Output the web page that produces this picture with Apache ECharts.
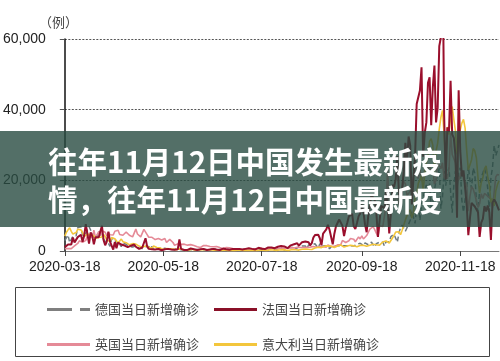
<!DOCTYPE html>
<html><head><meta charset="utf-8">
<script src="https://cdn.jsdelivr.net/npm/echarts@6/dist/echarts.min.js"></script>
<style>html,body{margin:0;padding:0;background:#fff}#c{width:500px;height:361px}</style>
</head><body><div id="c"></div>
<script>
const startDate = '2020-03-18';
const dayCount = 270;
const tickLabels = ['2020-03-18', '2020-05-18', '2020-07-18', '2020-09-18', '2020-11-18'];
const yTicks = [0, 20000, 40000, 60000];
const seriesNames = ['德国当日新增确诊', '法国当日新增确诊', '英国当日新增确诊', '意大利当日新增确诊'];

const germany = [
  2960, 2993, 4528, 2365, 2660, 4183, 3930, 4337, 6615, 6933, 6824, 4400, 4790, 4923,
  6064, 6922, 6365, 4933, 4031, 3251, 4289, 5633, 4885, 3990, 3725, 2737, 2946, 2218, 1287, 3394, 2945, 3699, 1945, 1842, 1881, 1226, 2357, 2481, 1870, 1514, 1257, 988, 1154, 1304,
  1478, 945, 793, 679, 685, 947, 1284, 1209, 1251, 667, 1251, 357, 933, 798, 933, 620, 583, 342, 797, 745, 460, 638, 431, 289, 432, 353, 741, 350, 342, 257, 286,
  333, 213, 342, 394, 507, 301, 354, 408, 177, 326, 555, 396, 348, 247, 367, 580, 687, 601, 770, 537, 587, 503, 630, 505, 297, 556, 256, 510, 466, 498,
  446, 446, 378, 239, 397, 398, 440, 442, 395, 378, 248, 159, 430, 351, 583, 570, 500, 382, 159, 560, 555, 570, 815, 781, 305, 287, 633, 684, 902, 870, 955,
  240, 500, 879, 741, 966, 1045, 1147, 555, 436, 1226, 1226, 1445, 1449, 1415, 625, 1693, 1510, 1707, 1510, 2034, 1427, 711, 2087, 1278, 1576, 1507, 1571, 1479, 610, 1218, 1256,
  1396, 1256, 1453, 1378, 1499, 1191, 1499, 1160, 1499, 1892, 1484, 1630, 1407, 1345, 1901, 1916, 2194, 1821, 1536, 2297, 1769, 1769, 2143, 2507, 1771, 1192, 2089, 1982, 2503, 2673,
  2503, 1382, 2642, 2089, 2639, 4058, 4516, 4721, 4516, 2467, 5132, 6638, 7334, 7830, 5587, 5587, 7595, 8685, 11242, 11287, 7830, 12331, 14714, 8685, 13000, 14964, 17145, 18681, 16774, 19059, 12097,
  13363, 17214, 19990, 21506, 23399, 12000, 15332, 22609, 18487, 21866, 23648, 16947, 10824, 18487, 22609, 17561, 22268, 23542, 14330, 11000, 14611, 17270, 24000, 20000, 17767, 23500, 22000, 14000, 11169, 17270,
  20815, 22046, 23449, 21695, 17767, 11169, 20815, 23679, 29875, 27000, 28438, 30000
];
const france = [
  1097, 1404, 1861, 1617, 1847, 3838, 2446, 2931, 3922, 3809, 4611, 2599, 4376, 7578,
  4861, 2116, 5233, 4267, 1873, 3912, 3777, 3881, 4286, 7120, 3114, 1613, 2673, 5497, 2633, 2641, 405, 2569, 785, 2383, 2256, 1827, 1653, 1537, 1842, 1100, 1200, 1500, 1065, 1843,
  1200, 800, 600, 500, 1000, 800, 3600, 1300, 600, 300, 500, 800, 400, 350, 550, 300, 200, 400, 500, 450, 600, 500, 400, 300, 350, 300, 500, 3300, 600, 400, 300,
  400, 300, 700, 700, 600, 500, 400, 300, 500, 500, 700, 600, 400, 300, 300, 450, 550, 600, 500, 400, 300, 250, 500, 700, 600, 500, 400, 350, 500, 600,
  500, 600, 700, 600, 500, 400, 300, 600, 700, 800, 700, 600, 500, 450, 800, 900, 700, 650, 600, 550, 900, 1000, 1100, 1000, 900, 800, 700, 1200, 1300, 1400, 1350,
  1300, 1100, 800, 1000, 1600, 1700, 1900, 2300, 2200, 1500, 1400, 2500, 2600, 2700, 2800, 2500, 1600, 2200, 3800, 4500, 4700, 4600, 3600, 1600, 4900, 5400, 6100, 7400, 6000, 5500, 1900,
  4900, 7000, 7100, 8900, 8500, 7100, 4200, 6500, 8000, 9800, 9400, 10500, 7000, 6200, 7900, 9800, 10600, 13200, 11000, 7500, 5300, 10000, 13000, 16000, 15000, 14400, 11000, 4000, 8500, 12800,
  12800, 12100, 17000, 12600, 5000, 10500, 18700, 18100, 20300, 26900, 16100, 13000, 12900, 22600, 30600, 25100, 32400, 29800, 13200, 20500, 26700, 41600, 42000, 45400, 52000, 26700, 33400, 36400, 47600, 49200, 35600,
  46300, 52500, 36400, 40500, 58000, 60500, 86800, 38600, 20200, 35000, 33700, 48200, 33000, 32000, 27200, 9400, 45500, 28400, 21100, 22800, 17900, 13000, 4500, 9200, 13600, 13500, 12600, 12500, 11000, 4000,
  8000, 9100, 12700, 11200, 12900, 11000, 3100, 13700, 14600, 13800, 13400, 11500
];
const uk = [
  676, 643, 714, 1035, 665, 967, 1427, 1452, 2129, 2885, 2546, 2433, 2619, 3009,
  4324, 4244, 4450, 3735, 5903, 3802, 3634, 5491, 4344, 5706, 5233, 5288, 4342, 5252, 4603, 4617, 4516, 5599, 5525, 5850, 4676, 4301, 4451, 4583, 5386, 4913, 4463, 4309, 3996, 4076,
  6201, 4806, 4339, 3985, 4406, 6111, 5614, 4649, 3896, 3923, 3877, 3403, 3242, 3446, 3560, 3451, 3142, 2684, 3534, 2412, 2615, 3287, 2959, 2409, 1625, 2004, 2013, 2095, 1887, 2445, 1936,
  1570, 1653, 1871, 1805, 1650, 1557, 1326, 1205, 1387, 1003, 1266, 1541, 1425, 1514, 1056, 1279, 1115, 1218, 1346, 1295, 1221, 958, 874, 653, 1118, 1006, 890, 901, 815, 689,
  829, 576, 544, 624, 516, 352, 581, 630, 512, 642, 820, 650, 530, 598, 538, 642, 687, 827, 726, 580, 445, 560, 769, 767, 798, 745, 685, 581, 763, 846, 880,
  771, 744, 938, 670, 892, 950, 871, 758, 1062, 1148, 1009, 1441, 1009, 1040, 1012, 1077, 1089, 1182, 1295, 1033, 1041, 1288, 1276, 1006, 1184, 1048, 1108, 1715, 1522, 1276, 1715,
  1295, 1508, 1735, 1940, 1813, 2988, 2948, 2420, 2659, 2919, 3539, 3497, 3330, 2621, 3105, 3991, 3395, 4322, 3395, 3899, 4368, 4926, 6178, 6634, 6874, 6042, 5693, 4044, 7143, 7108,
  6914, 6968, 12872, 22961, 12594, 14542, 17540, 14162, 13864, 15166, 12872, 13972, 17234, 19724, 18980, 15650, 16171, 16982, 18804, 21331, 26688, 21242, 20530, 23012, 19790, 20890, 22885, 24701, 23065, 24405, 21915,
  23254, 18950, 20018, 25177, 24141, 23287, 24957, 20572, 21350, 20412, 22950, 33470, 27301, 26860, 24962, 21363, 20051, 19609, 22915, 20252, 19875, 18662, 11299, 15450, 18213, 17555, 16022, 15871, 12330, 13430,
  16170, 14879, 16298, 16022, 15539, 15539, 14718, 12282, 16578, 20964, 21672, 21502
];
const italy = [
  4207, 5322, 5986, 6557, 5560, 4789, 5249, 5210, 6153, 5959, 5974, 5217, 4050, 4053,
  4782, 4668, 4585, 4805, 4316, 3599, 3039, 3836, 4204, 3951, 4694, 4092, 3153, 2972, 2667, 3786, 3493, 3491, 3047, 2256, 2729, 3370, 2646, 3021, 2357, 2324, 1739, 2091, 2086, 1872,
  1965, 1900, 1389, 1221, 1075, 1444, 1401, 1327, 1083, 802, 744, 1402, 888, 992, 789, 875, 675, 451, 813, 665, 642, 652, 669, 531, 300, 397, 584, 593, 516, 416, 355,
  178, 318, 321, 177, 518, 270, 197, 280, 283, 202, 379, 163, 346, 338, 301, 210, 328, 331, 251, 262, 224, 218, 122, 190, 296, 259, 175, 174, 126, 142,
  187, 201, 223, 235, 192, 208, 138, 193, 229, 276, 188, 234, 169, 114, 162, 230, 233, 249, 219, 190, 129, 282, 306, 252, 275, 255, 170, 181, 289, 386, 379,
  295, 239, 159, 190, 384, 402, 552, 347, 463, 259, 412, 481, 523, 574, 629, 479, 320, 403, 642, 845, 947, 1071, 1210, 953, 878, 1367, 1411, 1462, 1444, 1365, 996,
  978, 1326, 1397, 1733, 1694, 1297, 1108, 1370, 1434, 1597, 1616, 1501, 1458, 1008, 1229, 1452, 1585, 1907, 1638, 1587, 1350, 1392, 1640, 1786, 1912, 1869, 1766, 1494, 1648, 1851,
  2548, 2499, 2844, 2578, 2257, 2677, 3678, 4458, 5372, 5724, 5456, 4619, 5901, 7332, 8804, 10010, 10925, 11705, 9338, 10874, 15199, 16079, 19143, 19644, 21273, 17012, 21994, 24991, 26831, 31084, 31758,
  29907, 22253, 28244, 30550, 34505, 37809, 39811, 32616, 25271, 35098, 32961, 37978, 40902, 37255, 33979, 27354, 32191, 34282, 36176, 37242, 34767, 28337, 22930, 23232, 25853, 29003, 28352, 26323, 20648, 16377,
  19350, 20709, 23225, 24099, 21052, 18887, 13720, 14842, 12756, 16999, 18727, 19903
];

const categories = [];
(function () {
  const t0 = Date.parse(startDate + 'T00:00:00Z');
  for (let i = 0; i < dayCount; i++) categories.push(new Date(t0 + i * 86400000).toISOString().slice(0, 10));
})();

const isTick = (i, v) => tickLabels.indexOf(categories[i]) >= 0;

const solidIcon = 'path://M0,0H43V3H0Z';
const dashIcon = 'path://M0,0H25V3H0Z M33,0H43V3H33Z';
const legendBase = {
  orient: 'horizontal', width: 470,
  itemWidth: 43, itemHeight: 3, itemGap: 15, itemTextGap: 5,
  textStyle: { fontFamily: 'Noto Sans CJK SC', fontSize: 13, color: '#444', width: 175 }
};

const chart = echarts.init(document.getElementById('c'), null, { renderer: 'canvas' });
chart.setOption({
  animation: false,
  backgroundColor: '#fff',
  grid: { left: 63, right: 1, top: 39, bottom: 110, containLabel: false },
  xAxis: {
    type: 'category', data: categories, boundaryGap: false,
    axisLine: { lineStyle: { color: '#777', width: 1 } },
    axisTick: { interval: isTick, length: 5, lineStyle: { color: '#444' } },
    axisLabel: { interval: isTick, margin: 9, color: '#222', fontSize: 14, fontFamily: 'Liberation Sans, Arial, sans-serif' },
    splitLine: { show: false }
  },
  yAxis: {
    type: 'value', min: yTicks[0], max: yTicks[yTicks.length - 1], interval: 20000,
    axisLine: { show: true, lineStyle: { color: '#111', width: 1.5 } },
    axisTick: { show: true, length: 5, lineStyle: { color: '#555' } },
    axisLabel: { margin: 19, color: '#222', fontSize: 14, fontFamily: 'Liberation Sans, Arial, sans-serif',
      formatter: v => v.toLocaleString('en-US') },
    splitLine: { show: true, lineStyle: { color: '#555', width: 1, type: [2, 1.5] } }
  },
  legend: [
    Object.assign({}, legendBase, { left: 42, top: 298,
      data: [{ name: seriesNames[0], icon: dashIcon }, { name: seriesNames[1], icon: solidIcon }] }),
    Object.assign({}, legendBase, { left: 42, top: 333,
      data: [{ name: seriesNames[2], icon: solidIcon }, { name: seriesNames[3], icon: solidIcon }] })
  ],
  series: [
    { name: seriesNames[0], type: 'line', data: germany, symbol: 'none', color: '#7f7f7f',
      lineStyle: { width: 1.5, type: [5, 3], color: '#6f7b80' }, z: 2 },
    { name: seriesNames[2], type: 'line', data: uk, symbol: 'none', color: '#e58a97',
      lineStyle: { width: 1.6, color: '#e58a97' }, z: 3 },
    { name: seriesNames[3], type: 'line', data: italy, symbol: 'none', color: '#f3c63c',
      lineStyle: { width: 1.6, color: '#f3c63c' }, z: 4 },
    { name: seriesNames[1], type: 'line', data: france, symbol: 'none', color: '#8a1028',
      lineStyle: { width: 2, color: '#9a0f2c' }, z: 5 }
  ],
  graphic: [
    { type: 'text', x: 39, y: 16, style: { text: '（例）', fill: '#444', font: '13px "Noto Sans CJK SC"' } },
    { type: 'rect', shape: { x: 15.5, y: 287.5, width: 474, height: 69 }, style: { fill: 'none', stroke: '#444', lineWidth: 1 }, z: 1 },
    { type: 'rect', shape: { x: 0, y: 131, width: 500, height: 96 }, style: { fill: 'rgba(40,75,65,0.8)' }, z: 100 },
    { type: 'text', x: 48, y: 162, z: 101, style: { text: '往年11月12日中国发生最新疫', fill: '#fff', verticalAlign: 'middle', font: 'bold 29.5px "Noto Sans CJK SC"' } },
    { type: 'text', x: 48, y: 200, z: 101, style: { text: '情，往年11月12日中国最新疫', fill: '#fff', verticalAlign: 'middle', font: 'bold 29.5px "Noto Sans CJK SC"' } }
  ]
});
</script>
</body></html>
